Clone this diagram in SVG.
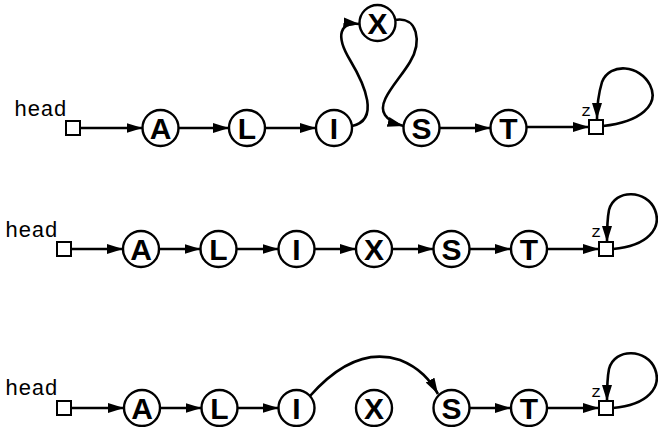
<svg xmlns="http://www.w3.org/2000/svg" width="658" height="427" viewBox="0 0 658 427">
<defs>
<marker id="ah" markerUnits="userSpaceOnUse" markerWidth="18" markerHeight="12" refX="16" refY="5" orient="auto">
<path d="M0,0 L16,5 L0,10 z" fill="#000"/>
</marker>
<style>
.n circle{fill:#fff;stroke:#000;stroke-width:2.4}
.n text{font-family:"Liberation Sans",Arial,sans-serif;font-weight:bold;font-size:30px;text-anchor:middle}
.b{fill:#fff;stroke:#000;stroke-width:2}
.e path,.e line{fill:none;stroke:#000;stroke-width:2.6;marker-end:url(#ah)}
</style>
</defs>
<rect width="658" height="427" fill="#fff"/>

<g id="connectors" class="e">
<line x1="80" y1="128" x2="142.5" y2="128"/>
<line x1="178.5" y1="128" x2="229" y2="128"/>
<line x1="265" y1="128" x2="316" y2="128"/>
<path d="M352,126 C380,120 365,85 350,60 C335,35 340,22 359.5,24"/>
<path d="M395,20 C418,16 422,42 410,62 C398,82 376,102 385,115 C389,121 396,124 403.5,126"/>
<line x1="439.5" y1="128" x2="490.5" y2="128"/>
<line x1="526.5" y1="127" x2="589" y2="127"/>
<path d="M603,126 C640,122 660,105 650,85 C640,65 610,62 602,82 C599,92 597,105 597,119"/>
<line x1="71" y1="249" x2="123" y2="249"/>
<line x1="159" y1="249" x2="200.5" y2="249"/>
<line x1="236.5" y1="249" x2="278.5" y2="249"/>
<line x1="314.5" y1="249" x2="356" y2="249"/>
<line x1="392" y1="249" x2="433.5" y2="249"/>
<line x1="469.5" y1="249" x2="511" y2="249"/>
<line x1="547" y1="249" x2="599" y2="249"/>
<path d="M613,249 C648,246 662,228 655,210 C647,190 615,188 609,210 C607,220 607,232 607,242"/>
<line x1="71" y1="408" x2="124" y2="408"/>
<line x1="160" y1="408" x2="201.5" y2="408"/>
<line x1="237.5" y1="408" x2="278.5" y2="408"/>
<path d="M310,396 C340,362 370,350 400,360 C420,368 430,380 438,394"/>
<line x1="469.5" y1="408" x2="511" y2="408"/>
<line x1="547" y1="408" x2="599" y2="408"/>
<path d="M613,408 C648,405 662,387 655,369 C647,349 615,347 609,369 C607,379 607,391 607,401"/>
</g>

<g id="head1"><text x="14" y="116" font-family="'Liberation Mono','DejaVu Sans Mono',monospace" font-size="22">head</text><rect class="b" x="66" y="121" width="14" height="14"/></g>
<g id="r1A" class="n"><circle cx="160.5" cy="128" r="18"/><text x="160.5" y="139">A</text></g>
<g id="r1L" class="n"><circle cx="247" cy="128" r="18"/><text x="247" y="139">L</text></g>
<g id="r1I" class="n"><circle cx="334" cy="128" r="18"/><text x="334" y="139">I</text></g>
<g id="r1X" class="n"><circle cx="377.5" cy="23" r="18"/><text x="377.5" y="34">X</text></g>
<g id="r1S" class="n"><circle cx="421.5" cy="128" r="18"/><text x="421.5" y="139">S</text></g>
<g id="r1T" class="n"><circle cx="508.5" cy="128" r="18"/><text x="508.5" y="139">T</text></g>
<g id="z1"><text x="581" y="116" font-family="'Liberation Mono','DejaVu Sans Mono',monospace" font-size="17">z</text><rect class="b" x="589" y="120" width="14" height="14"/></g>

<g id="head2"><text x="5" y="237" font-family="'Liberation Mono','DejaVu Sans Mono',monospace" font-size="22">head</text><rect class="b" x="57" y="242" width="14" height="14"/></g>
<g id="r2A" class="n"><circle cx="141" cy="249" r="18"/><text x="141" y="260">A</text></g>
<g id="r2L" class="n"><circle cx="218.5" cy="249" r="18"/><text x="218.5" y="260">L</text></g>
<g id="r2I" class="n"><circle cx="296.5" cy="249" r="18"/><text x="296.5" y="260">I</text></g>
<g id="r2X" class="n"><circle cx="374" cy="249" r="18"/><text x="374" y="260">X</text></g>
<g id="r2S" class="n"><circle cx="451.5" cy="249" r="18"/><text x="451.5" y="260">S</text></g>
<g id="r2T" class="n"><circle cx="529" cy="249" r="18"/><text x="529" y="260">T</text></g>
<g id="z2"><text x="591" y="237" font-family="'Liberation Mono','DejaVu Sans Mono',monospace" font-size="17">z</text><rect class="b" x="599" y="242" width="14" height="14"/></g>

<g id="head3"><text x="5" y="395" font-family="'Liberation Mono','DejaVu Sans Mono',monospace" font-size="22">head</text><rect class="b" x="57" y="401" width="14" height="14"/></g>
<g id="r3A" class="n"><circle cx="142" cy="408" r="18"/><text x="142" y="419">A</text></g>
<g id="r3L" class="n"><circle cx="219.5" cy="408" r="18"/><text x="219.5" y="419">L</text></g>
<g id="r3I" class="n"><circle cx="296.5" cy="408" r="18"/><text x="296.5" y="419">I</text></g>
<g id="r3X" class="n"><circle cx="374" cy="408" r="18"/><text x="374" y="419">X</text></g>
<g id="r3S" class="n"><circle cx="451.5" cy="408" r="18"/><text x="451.5" y="419">S</text></g>
<g id="r3T" class="n"><circle cx="529" cy="408" r="18"/><text x="529" y="419">T</text></g>
<g id="z3"><text x="591" y="397" font-family="'Liberation Mono','DejaVu Sans Mono',monospace" font-size="17">z</text><rect class="b" x="599" y="401" width="14" height="14"/></g>
</svg>
